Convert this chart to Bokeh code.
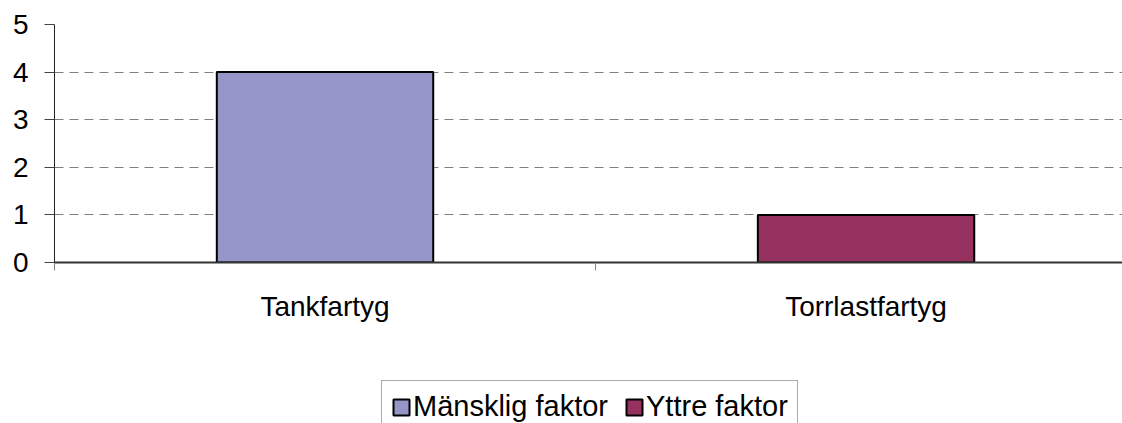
from bokeh.plotting import figure
from bokeh.layouts import column
from bokeh.models import ColumnDataSource, Range1d, FixedTicker, Legend, LegendItem, Grid
from bokeh.embed import file_html
from bokeh.resources import INLINE

categories = ["Tankfartyg", "Torrlastfartyg"]
series = ["Mänsklig faktor", "Yttre faktor"]
mansklig = [4, 0]
yttre = [0, 1]
colors = ["#9595C8", "#96325F"]
y_ticks = [0, 1, 2, 3, 4, 5]

FONT = "Liberation Sans"

x_centers = [i + 0.5 for i in range(len(categories))]
boundaries = list(range(len(categories) + 1))
source = ColumnDataSource(dict(x=x_centers, cat=categories, m=mansklig, y=yttre))

p = figure(width=1122, height=335, output_backend="svg", toolbar_location=None,
           x_range=Range1d(0, 1.974), y_range=Range1d(0, max(y_ticks)),
           min_border_left=54, min_border_top=24, min_border_bottom=73,
           min_border_right=0)
p.outline_line_color = None
p.background_fill_color = "white"
p.border_fill_color = "white"

bar_style = dict(width=0.4, fill_color=colors, line_color="black", line_width=2)
rs = p.vbar_stack(["m", "y"], x="x", source=source, **bar_style)

# grids
p.xgrid.grid_line_color = None
p.ygrid[0].ticker = FixedTicker(ticks=y_ticks[1:-1])
p.ygrid[0].grid_line_color = "#808080"
p.ygrid[0].grid_line_dash = "9 6"
p.ygrid[0].grid_line_width = 1
top_grid = Grid(dimension=1, ticker=FixedTicker(ticks=y_ticks[-1:]),
                grid_line_color="#808080", grid_line_width=1)
p.add_layout(top_grid)

# y axis
yax = p.yaxis[0]
yax.ticker = FixedTicker(ticks=y_ticks)
yax.axis_line_color = "#222222"
yax.axis_line_width = 1
yax.major_tick_out = 10
yax.major_tick_in = 0
yax.major_tick_line_color = "#444444"
yax.minor_tick_line_color = None
yax.major_label_standoff = 16
yax.major_label_text_font = FONT
yax.major_label_text_font_size = "28px"
yax.major_label_text_color = "black"

# x axis
xax = p.xaxis[0]
xax.ticker = FixedTicker(ticks=x_centers, minor_ticks=boundaries)
xax.major_label_overrides = {xc: c for xc, c in zip(x_centers, categories)}
xax.axis_line_color = "#333333"
xax.axis_line_width = 2
xax.major_tick_out = 0
xax.major_tick_in = 0
xax.minor_tick_out = 8
xax.minor_tick_in = 0
xax.minor_tick_line_color = "#808080"
xax.minor_tick_line_width = 1
xax.major_label_standoff = 20
xax.major_label_text_font = FONT
xax.major_label_text_font_size = "28px"
xax.major_label_text_color = "black"

# legend strip below the chart (same series, drawn far out of view, used only for the legend)
lp = figure(width=1122, height=88, output_backend="svg", toolbar_location=None,
            x_axis_location=None, y_axis_location=None, min_border=0,
            x_range=Range1d(-1000, -999), y_range=Range1d(1000, 1001))
lp.outline_line_color = None
lp.grid.grid_line_color = None
lp.background_fill_color = "white"
lp.border_fill_color = "white"
proxies = lp.vbar_stack(["m", "y"], x="x", source=source, **bar_style)

legend = Legend(items=[LegendItem(label=s, renderers=[r]) for s, r in zip(series, proxies)],
                location=(327, -10), orientation="horizontal",
                label_text_font=FONT, label_text_font_size="29px", label_text_color="black",
                glyph_width=20, glyph_height=20, label_standoff=2, spacing=16,
                padding=9, border_line_color="#555555", border_line_width=1,
                background_fill_color="white", background_fill_alpha=1,
                margin=0)
lp.add_layout(legend, "center")

layout = column(p, lp, spacing=0)
open("out.html", "w").write(file_html(layout, INLINE))
